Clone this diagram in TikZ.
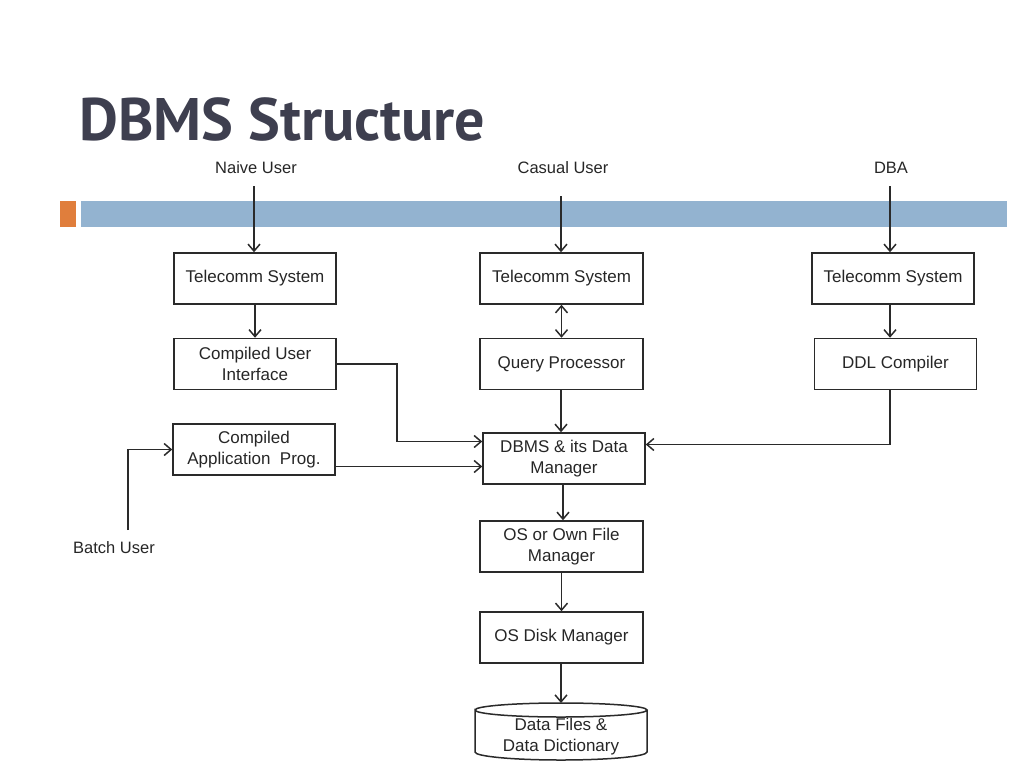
\documentclass[tikz,border=0pt]{standalone}
\usepackage{fontspec}
\setmainfont{Liberation Sans}
\newfontfamily\titlefont{PT Sans}
\usetikzlibrary{arrows.meta}
\definecolor{titlegray}{HTML}{3E3F4F}
\definecolor{barblue}{HTML}{93B3D0}
\definecolor{barorange}{HTML}{E07E3C}
\definecolor{linegray}{HTML}{2A2A2A}
\tikzset{
  box/.style={draw=linegray, line width=1.5pt, minimum width=162pt, minimum height=51pt,
    align=center, inner sep=2pt, text=black!85, font=\fontsize{17}{21}\selectfont},
  user/.style={text=black!85, font=\fontsize{16.5}{19}\selectfont},
  flow/.style={->, >={Straight Barb[length=7pt,width=12pt]}, draw=linegray, line width=1.5pt}
}

\begin{document}
\begin{tikzpicture}[x=1pt,y=-1pt]
  \useasboundingbox (0,0) rectangle (1024,768);

  % title
  \node[anchor=base west, inner sep=0pt, text=titlegray,
        font=\titlefont\bfseries\fontsize{60}{62}\selectfont] (title) at (79,140) {DBMS Structure};

  % bar
  \fill[barorange] (60,201) rectangle (76,227);
  \fill[barblue] (81,201) rectangle (1007,227);

  % users
  \node[user] (naive) at (256,168) {Naive User};
  \node[user] (casual) at (563,168) {Casual User};
  \node[user] (dba) at (891,168) {DBA};
  \node[user] (batch) at (114,548) {Batch User};

  % left column
  \node[box] (tc1) at (255,278.5) {Telecomm System};
  \node[box] (cui) at (255,364) {Compiled User\\Interface};
  \node[box] (cap) at (254,449.5) {Compiled\\Application\ \ Prog.};

  % middle column
  \node[box, minimum width=163pt] (tc2) at (561.5,278.5) {Telecomm System};
  \node[box, minimum width=163pt] (qp) at (561.5,364) {Query Processor};
  \node[box] (dbms) at (564,458.5) {DBMS \& its Data\\Manager};
  \node[box, minimum width=163pt] (osf) at (561.5,546.5) {OS or Own File\\Manager};
  \node[box, minimum width=163pt] (disk) at (561.5,637.5) {OS Disk Manager};
  \node[box, draw=none, minimum width=172pt, minimum height=57pt] (files) at (561,737) {Data Files \&\\Data Dictionary};
  % cylinder outline
  \draw[linegray, line width=1.5pt] (475,710)
    arc[start angle=180, end angle=360, x radius=86, y radius=7]
    arc[start angle=0, end angle=180, x radius=86, y radius=7]
    -- ++(0,42)
    arc[start angle=180, end angle=0, x radius=86, y radius=8]
    -- ++(0,-42);

  % right column
  \node[box] (tc3) at (893,278.5) {Telecomm System};
  \node[box] (ddl) at (895.5,364) {DDL Compiler};

  % users in
  \coordinate (naive end) at (254,186);
  \coordinate (casual end) at (561,196);
  \coordinate (dba end) at (890,186);
  \coordinate (batch end) at (128,530);
  \draw[flow] (naive end) -- (naive end |- tc1.north);
  \draw[flow] (casual end) -- (casual end |- tc2.north);
  \draw[flow] (dba end) -- (dba end |- tc3.north);
  \draw[flow] (batch end) |- (cap.west);

  % columns
  \draw[flow] (tc1) -- (tc1 |- cui.north);
  \draw[flow, <->] (tc2.south) -- (qp.north);
  \draw[flow] (tc3.south -| dba end) -- (ddl.north -| dba end);
  \draw[flow] (qp.south -| casual end) -- (dbms.north -| casual end);

  % into the data manager
  \draw[flow] (cui.east) -- ++(60,0) |- ([yshift=17pt]dbms.west);
  \draw[flow] ([yshift=-8pt]dbms.west -| cap.east) -- ([yshift=-8pt]dbms.west);
  \draw[flow] (ddl.south -| dba end) |- ([yshift=14pt]dbms.east);

  % down to the files
  \draw[flow] (dbms.south -| 563,0) -- (osf.north -| 563,0);
  \draw[flow] (osf) -- (osf |- disk.north);
  \draw[flow] (disk.south -| 561,0) -- (561,703);
\end{tikzpicture}
\end{document}
